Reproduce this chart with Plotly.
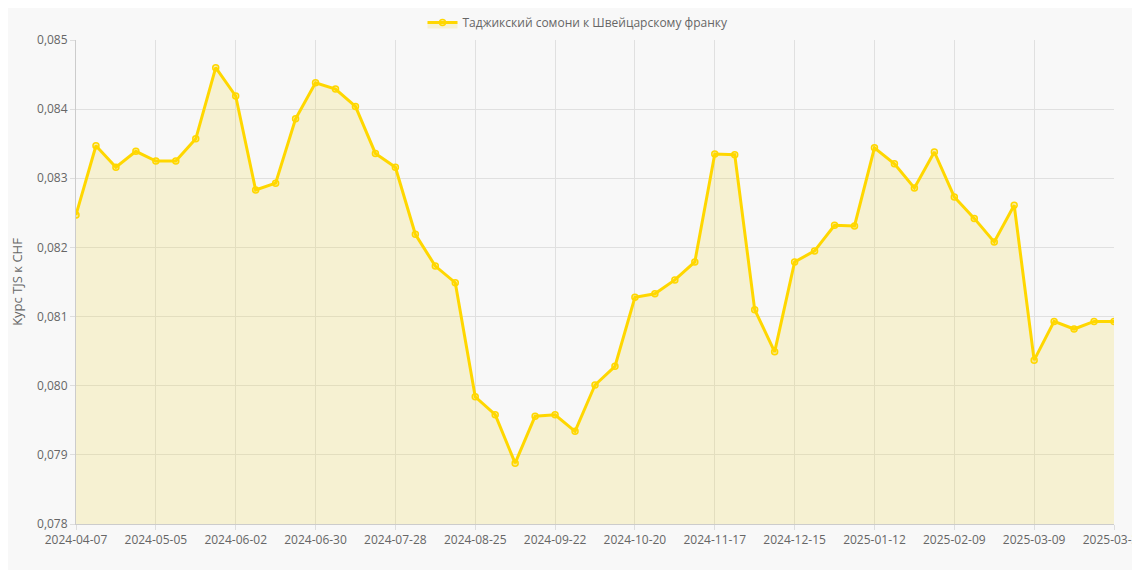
import plotly.graph_objects as go
import datetime as dt

values = [0.08247,0.08347,0.08316,0.08339,0.08325,0.08325,0.08357,0.08460,0.08419,0.08283,
0.08293,0.08386,0.08438,0.08429,0.08404,0.08336,0.08316,0.08219,0.08173,0.08149,
0.07984,0.07958,0.07888,0.07956,0.07958,0.07934,0.08001,0.08028,0.08128,0.08133,
0.08153,0.08179,0.08335,0.08334,0.08110,0.08049,0.08179,0.08195,0.08232,0.08231,
0.08344,0.08321,0.08286,0.08338,0.08273,0.08242,0.08208,0.08261,0.08037,0.08093,
0.08082,0.08093,0.08093]
start = dt.date(2024,4,7)
dates = [(start+dt.timedelta(weeks=i)).isoformat() for i in range(len(values)-1)] + ["2025-03-31"]
tick_idx = list(range(0, 49, 4)) + [len(values)-1]
series_name = "Таджикский сомони к Швейцарскому франку"

fig = go.Figure(go.Scatter(
    x=list(range(len(values))), y=values, mode="lines+markers", name=series_name,
    line=dict(color="#FFD700", width=3),
    marker=dict(size=6, color="rgba(255,215,0,0.3)", line=dict(color="#FFD700", width=1.5)),
    fill="tozeroy", fillcolor="rgba(240,215,60,0.2)"))
fig.update_layout(
    width=1140, height=570, paper_bgcolor="#f8f8f8", plot_bgcolor="#f8f8f8",
    margin=dict(l=68, r=34, t=32, b=54, autoexpand=False), separators=", ",
    font=dict(family="Open Sans, DejaVu Sans", size=12, color="#666"),
    showlegend=True,
    legend=dict(orientation="h", x=0.5, xanchor="center", xref="container",
                y=1.0, yanchor="top", yref="container",
                font=dict(size=12, color="#666")),
    xaxis=dict(range=[0, len(values)-1], tickmode="array", tickvals=tick_idx, automargin=False,
               ticktext=[dates[i] for i in tick_idx], showgrid=True, gridcolor="#e0e0e0",
               zeroline=False, showline=True, linecolor="#ccc", ticks="outside", ticklen=5, tickcolor="#ddd"),
    yaxis=dict(range=[0.078, 0.085], dtick=0.001, tickformat=".3f", showgrid=True, gridcolor="#e0e0e0",
               automargin=False,
               zeroline=False, showline=True, linecolor="#ccc", title=dict(text="Курс TJS к CHF", font=dict(size=13)),
               ticks="outside", ticklen=5, tickcolor="#ddd"),
)
fig.write_html("out.html")
